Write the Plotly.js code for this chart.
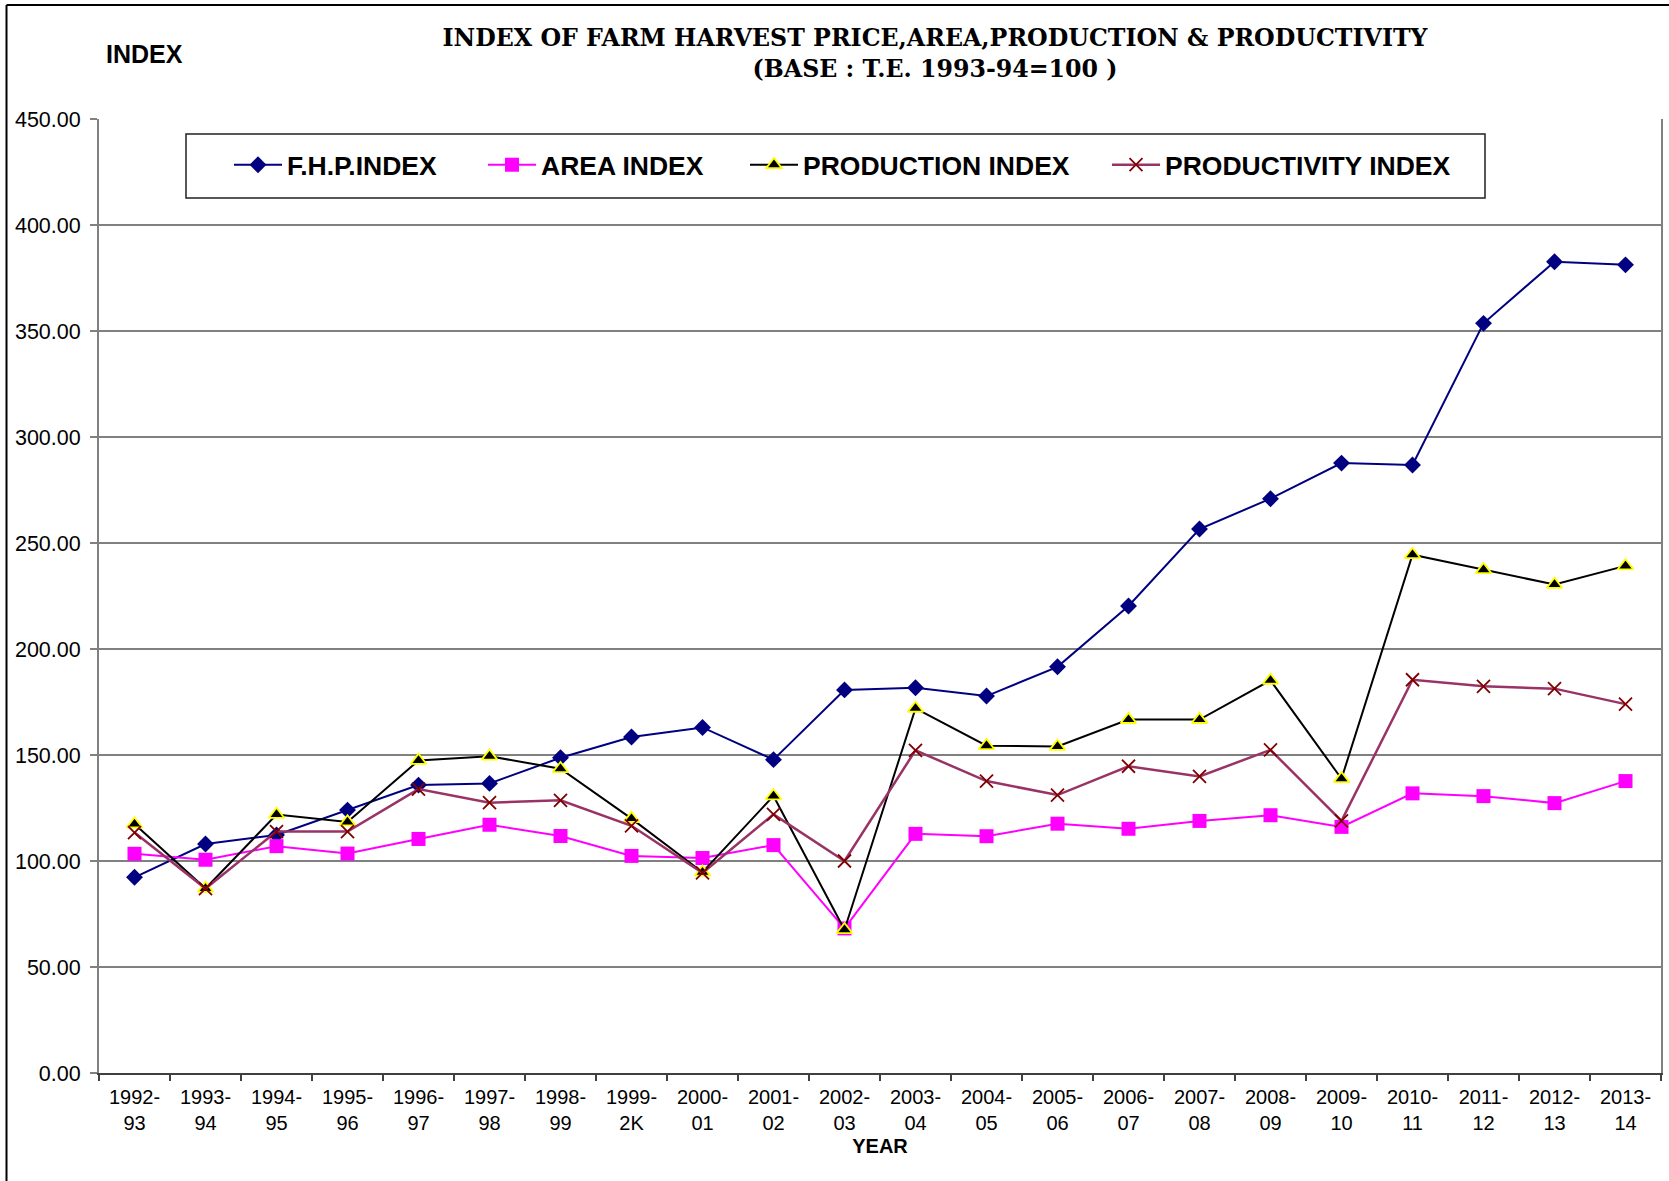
<!DOCTYPE html>
<html>
<head>
<meta charset="utf-8">
<script src="https://cdn.plot.ly/plotly-3.0.1.min.js"></script>
<style>
html,body{margin:0;padding:0;background:#fff;}
#chart{width:1669px;height:1181px;}
</style>
</head>
<body>
<div id="chart"></div>
<script>
// ---- data ----
const years = ["1992-<br>93","1993-<br>94","1994-<br>95","1995-<br>96","1996-<br>97","1997-<br>98","1998-<br>99","1999-<br>2K","2000-<br>01","2001-<br>02","2002-<br>03","2003-<br>04","2004-<br>05","2005-<br>06","2006-<br>07","2007-<br>08","2008-<br>09","2009-<br>10","2010-<br>11","2011-<br>12","2012-<br>13","2013-<br>14"];
const fhpIndex = [92.3,108.0,112.3,124.0,135.8,136.6,148.7,158.5,163.0,147.8,180.7,181.7,177.8,191.6,220.3,256.6,270.9,287.7,286.8,353.6,382.7,381.2];
const areaIndex = [103.4,100.6,107.0,103.5,110.4,117.1,111.8,102.4,101.4,107.5,68.2,112.8,111.7,117.6,115.2,118.9,121.6,116.1,131.9,130.6,127.3,137.7];
const productionIndex = [117.4,87.0,121.9,118.4,147.4,149.4,143.5,120.0,94.7,130.7,67.6,172.0,154.4,154.0,166.7,166.7,185.2,138.8,244.5,237.4,230.4,239.2];
const productivityIndex = [113.4,87.0,113.9,113.9,133.9,127.5,128.6,116.6,94.4,122.0,100.0,152.2,137.7,131.1,144.7,139.9,152.4,118.9,185.5,182.4,181.3,174.0];
const seriesNames = ["F.H.P.INDEX","AREA INDEX","PRODUCTION INDEX","PRODUCTIVITY INDEX"];

const SANS = "Liberation Sans, Arial, sans-serif";

const traces = [
  {x: years, y: fhpIndex, name: seriesNames[0], mode: "lines+markers", legend: "legend",
   line: {color: "#000080", width: 2},
   marker: {symbol: "diamond", size: 13, color: "#000080"}},
  {x: years, y: areaIndex, name: seriesNames[1], mode: "lines+markers", legend: "legend2",
   line: {color: "#FF00FF", width: 2},
   marker: {symbol: "square", size: 14, color: "#FF00FF"}},
  {x: years, y: productionIndex, name: seriesNames[2], mode: "lines+markers", legend: "legend3",
   line: {color: "#000000", width: 2},
   marker: {symbol: "triangle-up", size: 13.5, color: "#000000", line: {color: "#FFFF00", width: 1.8}}},
  {x: years, y: productivityIndex, name: seriesNames[3], mode: "lines+markers", legend: "legend4",
   line: {color: "#993366", width: 2.5},
   marker: {symbol: "x-thin", size: 13, color: "#800000", line: {color: "#800000", width: 1.8}}}
];

const W = 1669, H = 1181;
const m = {l: 99, r: 8, t: 119, b: 108};
const pw = W - m.l - m.r, ph = H - m.t - m.b;
const px = v => (v - m.l) / pw;          // pixel x -> paper
const py = v => (H - m.b - v) / ph;      // pixel y -> paper

function legendAt(xPix) {
  return {x: px(xPix), y: py(165), xanchor: "left", yanchor: "middle",
    orientation: "h", bgcolor: "rgba(0,0,0,0)", borderwidth: 0, itemwidth: 48,
    font: {family: SANS, size: 26.5, color: "#000", weight: "bold"}};
}

const layout = {
  width: W, height: H,
  margin: m,
  paper_bgcolor: "#fff", plot_bgcolor: "#fff",
  showlegend: true,
  title: {
    text: "INDEX OF FARM HARVEST PRICE,AREA,PRODUCTION &amp; PRODUCTIVITY<br>(BASE : T.E. 1993-94=100 )",
    font: {family: "DejaVu Serif, serif", size: 23.7, color: "#000", weight: "bold"},
    xref: "container", yref: "container",
    x: 935 / W, xanchor: "center", y: 1 - 46 / H, yanchor: "top"
  },
  xaxis: {
    type: "category", range: [-0.5, years.length - 0.5],
    showline: true, linecolor: "#404040", linewidth: 2,
    ticks: "outside", tickson: "boundaries", ticklen: 6, tickcolor: "#404040", tickwidth: 1.5,
    ticklabelstandoff: 5,
    tickfont: {family: SANS, size: 20, color: "#000"},
    showgrid: false, zeroline: false,
    title: {text: "YEAR", font: {family: SANS, size: 20, color: "#000", weight: "bold"}, standoff: 6}
  },
  yaxis: {
    range: [0, 450], dtick: 50, tick0: 0, tickformat: ".2f",
    showline: true, linecolor: "#808080", linewidth: 2, mirror: true,
    ticks: "outside", ticklen: 7, tickcolor: "#808080", tickwidth: 1.5,
    ticklabelstandoff: 5,
    showgrid: true, gridcolor: "#808080", gridwidth: 2, zeroline: false,
    tickfont: {family: SANS, size: 21.5, color: "#000"}
  },
  legend: legendAt(229),
  legend2: legendAt(483),
  legend3: legendAt(745),
  legend4: legendAt(1107),
  shapes: [
    {type: "rect", xref: "paper", yref: "paper", x0: px(186), x1: px(1485), y0: py(198), y1: py(134),
     line: {color: "#202020", width: 1.5}, fillcolor: "#fff", layer: "below"},
    {type: "line", xref: "paper", yref: "paper", x0: px(6.5), x1: px(1669), y0: py(5), y1: py(5),
     line: {color: "#000", width: 2}},
    {type: "line", xref: "paper", yref: "paper", x0: px(6.5), x1: px(6.5), y0: py(5), y1: py(1181),
     line: {color: "#000", width: 2}}
  ],
  annotations: [
    {text: "INDEX", xref: "paper", yref: "paper", x: px(104), y: py(54), xanchor: "left", yanchor: "middle",
     showarrow: false, font: {family: SANS, size: 25, color: "#000", weight: "bold"}}
  ]
};

Plotly.newPlot("chart", traces, layout, {displayModeBar: false, staticPlot: true});
</script>
</body>
</html>
